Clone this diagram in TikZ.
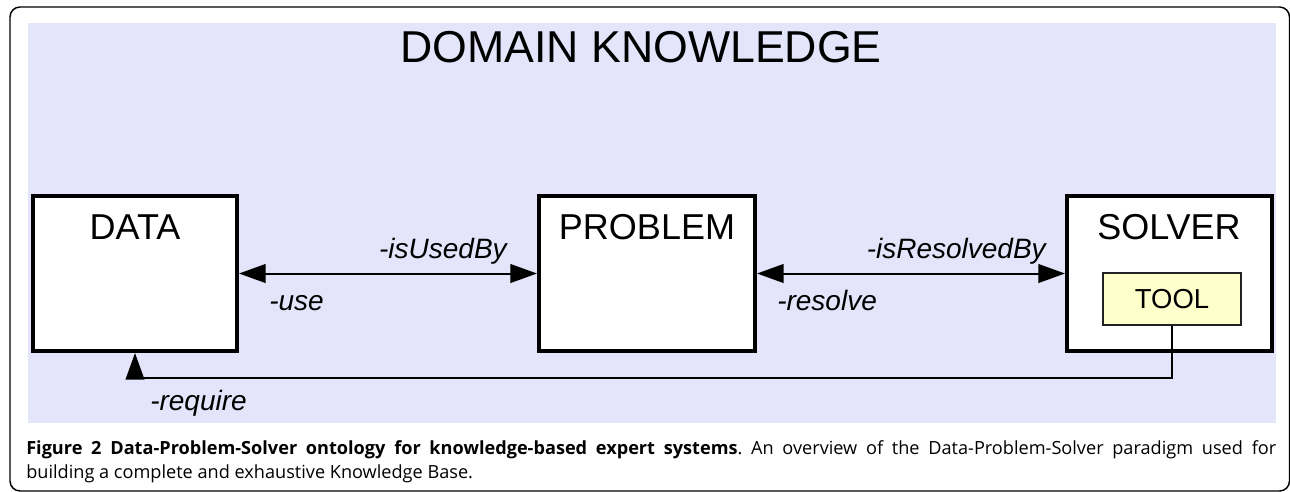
\documentclass[tikz,border=0pt]{standalone}
\usepackage{fontspec}
\setmainfont{Liberation Sans}
\newfontfamily\capfont{Open Sans}
\usetikzlibrary{arrows.meta}
\frenchspacing
\definecolor{domainbg}{HTML}{E4E4FB}
\definecolor{toolfill}{HTML}{FFFFCC}
\definecolor{framegray}{HTML}{222222}
\tikzset{
  conceptbox/.style={draw=black, line width=3pt, fill=white, inner sep=0pt},
  toolbox/.style={draw=framegray, line width=1.3pt, fill=toolfill, inner sep=0pt,
    minimum width=103.5pt, minimum height=39pt},
  boxtitle/.style={font=\fontsize{27}{30}\selectfont, anchor=base, inner sep=0pt},
  rolelabel/.style={font=\fontsize{21}{24}\selectfont\itshape, inner sep=0pt},
  link/.style={line width=1.5pt, draw=black},
}
\begin{document}
\begin{tikzpicture}[x=0.75pt, y=-0.75pt]
  \useasboundingbox (0,0) rectangle (1290,492);
  % outer frame and domain area
  \draw[line width=1.1pt, rounded corners=7.5pt] (10,7) rectangle (1289.5,491);
  \fill[domainbg] (28,23) rectangle (1276,423);
  \node[font=\fontsize{33.5}{36}\selectfont, anchor=base, inner sep=0pt] (domain) at (641,63) {DOMAIN KNOWLEDGE};

  % concept boxes
  \node[conceptbox, minimum width=153pt, minimum height=116.25pt] (data) at (135,273.5) {};
  \node[conceptbox, minimum width=162pt, minimum height=116.25pt] (problem) at (647,273.5) {};
  \node[conceptbox, minimum width=153.75pt, minimum height=116.25pt] (solver) at (1169.5,273.5) {};
  \node[boxtitle] (datat) at (135,239) {DATA};
  \node[boxtitle] (problemt) at (647,239) {PROBLEM};
  \node[boxtitle] (solvert) at (1169,239) {SOLVER};
  \node[toolbox] (tool) at (1172,299) {};
  \node[font=\fontsize{20.6}{24}\selectfont, anchor=base, inner sep=0pt] (toolt) at (1172,308) {TOOL};

  % relations
  \draw[link, {Triangle[length=20pt, width=14pt]}-{Triangle[length=20pt, width=14pt]}] (data) -- (problem);
  \draw[link, {Triangle[length=20pt, width=14pt]}-{Triangle[length=20pt, width=14pt]}] (problem) -- (solver);
  \coordinate (turn) at (1172,378);
  \draw[link, -{Triangle[length=20pt, width=14pt]}] (tool.south) -- (turn) -| (data.south);

  % role labels
  \node[rolelabel, anchor=base east] (isusedby) at (507,258) {-isUsedBy};
  \node[rolelabel, anchor=base west] (use) at (269,310) {-use};
  \node[rolelabel, anchor=base east] (isresolvedby) at (1046,258) {-isResolvedBy};
  \node[rolelabel, anchor=base west] (resolve) at (777,310) {-resolve};
  \node[rolelabel, anchor=base west] (require) at (150,410) {-require};

  % caption
  \node[anchor=north west, inner sep=0pt, text width=937.5pt, align=justify,
        font=\capfont\fontsize{13.6}{18.5}\selectfont] (caption) at (26,440)
    {\textbf{Figure 2 Data-Problem-Solver ontology for knowledge-based expert systems}. An overview of the Data-Problem-Solver paradigm used for\linebreak building a complete and exhaustive Knowledge Base.};
\end{tikzpicture}
\end{document}
